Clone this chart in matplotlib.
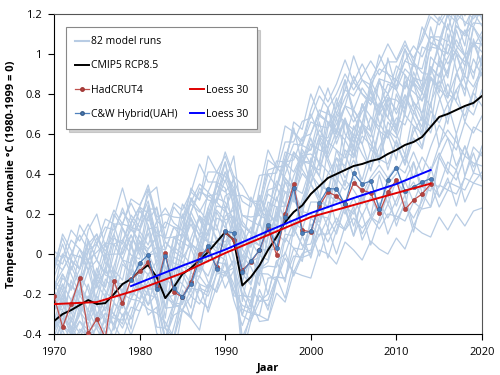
import matplotlib.pyplot as plt
from matplotlib.lines import Line2D
from matplotlib.ticker import FuncFormatter, MultipleLocator

plt.rcParams["font.family"] = ["Open Sans", "DejaVu Sans"]

YEARS = list(range(1970, 2021))

# CMIP5 RCP8.5 multi-model mean
CMIP5_MEAN = [
    -0.335, -0.30, -0.28, -0.255, -0.23, -0.25, -0.245, -0.20, -0.15, -0.125,
    -0.085, -0.055, -0.115, -0.22, -0.165, -0.10, -0.07, -0.03, 0.01, 0.06,
    0.11, 0.07, -0.157, -0.115, -0.057, 0.02, 0.085, 0.16, 0.21, 0.243,
    0.30, 0.34, 0.38, 0.40, 0.42, 0.44, 0.45, 0.465, 0.475, 0.50,
    0.52, 0.545, 0.56, 0.585, 0.635, 0.685, 0.70, 0.72, 0.74, 0.755,
    0.79,
]

# individual model runs, as offsets from the mean in hundredths of a degree
RUN_OFFSETS = [
    [30, 22, 28, 35, 25, 30, 38, 32, 36, 28, 32, 40, 30, 42, 35, 28, 33, 38, 30, 35,
     28, 22, 45, 38, 32, 40, 35, 28, 34, 30, 36, 30, 25, 33, 40, 35, 42, 38, 45, 40,
     35, 42, 48, 40, 45, 38, 50, 44, 48, 42, 45],
    [-10, -5, -12, -8, -15, -10, -5, -12, -18, -10, -15, -8, -12, -20, -14, -18, -10, -15, -22, -16,
     -20, -25, -15, -22, -18, -25, -20, -28, -22, -26, -30, -24, -28, -22, -30, -26, -32, -28, -35, -30,
     -33, -38, -30, -36, -40, -34, -38, -42, -36, -40, -38],
    [15, 20, 10, 18, 25, 12, 8, 20, 15, 22, 10, 18, 25, 15, 8, 20, 12, 5, 18, 22,
     15, 10, 20, 25, 12, 18, 8, 15, 5, 20, 25, 18, 12, 22, 15, 28, 20, 12, 25, 30,
     18, 25, 15, 22, 30, 20, 28, 35, 25, 30, 22],
    [0, -8, 5, -3, 8, -5, 2, 10, -4, 3, -6, 5, 12, 0, -8, 4, -2, 8, 15, 2,
     -5, 6, 10, -3, 4, 12, -2, 5, -8, 3, 10, 0, -6, 8, 2, 15, 5, -4, 6, 12,
     2, -8, 5, 10, -3, 8, 15, 4, -5, 6, 12],
    [25, 35, 20, 28, 15, 30, 22, 40, 28, 18, 25, 32, 20, 38, 30, 22, 35, 25, 15, 28,
     35, 20, 30, 22, 28, 38, 25, 32, 40, 30, 22, 35, 28, 20, 32, 45, 35, 28, 38, 30,
     42, 35, 28, 45, 38, 50, 42, 55, 45, 52, 48],
    [-5, 2, -10, -3, -12, 0, -8, -15, -5, -10, -2, -12, -6, 3, -10, -15, -4, -8, 0, -12,
     -6, -14, -5, -10, -2, -8, -15, -6, -12, -3, -10, -18, -8, -14, -5, -12, -20, -10, -6, -15,
     -12, -5, -18, -10, -22, -14, -8, -16, -25, -12, -18],
    [8, 15, 5, 12, 20, 10, 3, 14, 22, 12, 6, 16, 8, 20, 12, 4, 15, 22, 10, 18,
     12, 5, 14, 20, 10, 24, 15, 8, 18, 25, 20, 12, 28, 18, 24, 15, 30, 22, 16, 28,
     25, 18, 32, 24, 30, 20, 35, 28, 22, 30, 26],
    [-15, -8, -20, -12, -18, -5, -15, -10, -22, -14, -20, -12, -25, -15, -8, -18, -24, -14, -20, -10,
     -16, -22, -12, -18, -25, -14, -20, -28, -18, -22, -15, -25, -20, -30, -18, -24, -15, -28, -22, -32,
     -25, -18, -30, -22, -28, -35, -24, -30, -20, -32, -28],
    [5, 12, -2, 8, 0, 15, 6, -4, 10, 3, 12, 4, -5, 8, 15, 6, 0, 12, 5, -3,
     8, 15, 2, 10, -4, 6, 12, 0, 8, 16, 5, 12, 3, -5, 10, 4, 14, 8, 0, 12,
     6, 15, 8, 2, 12, 18, 5, 10, 15, 8, 14],
    [32, 25, 35, 28, 20, 33, 26, 30, 38, 24, 30, 22, 35, 28, 18, 26, 32, 24, 28, 20,
     26, 18, 30, 22, 28, 16, 24, 30, 20, 26, 22, 28, 18, 25, 32, 22, 28, 35, 25, 30,
     35, 28, 40, 32, 26, 38, 30, 42, 35, 40, 36],
    [-2, 5, -6, 2, -10, 4, -4, 6, 0, -8, 3, -5, 8, 0, -4, 10, 2, -6, 5, 0,
     -8, 2, 6, -4, 8, 0, -6, 4, 10, -2, 5, -6, 2, 8, -4, 3, -8, 6, 0, -5,
     4, -10, 2, -6, 8, -3, 5, -12, 0, -6, 3],
    [20, 12, 25, 18, 30, 22, 15, 28, 20, 32, 22, 28, 15, 24, 30, 18, 25, 12, 22, 28,
     20, 30, 24, 15, 22, 28, 18, 24, 30, 22, 15, 25, 20, 30, 24, 18, 26, 32, 22, 28,
     20, 30, 25, 18, 28, 35, 25, 30, 38, 28, 32],
    [-10, -18, -5, -14, -8, -20, -12, -4, -16, -10, -6, -15, -10, -20, -12, -5, -14, -8, -18, -12,
     -20, -10, -15, -5, -18, -22, -12, -16, -8, -20, -25, -15, -20, -10, -22, -16, -26, -18, -28, -20,
     -15, -25, -20, -30, -22, -18, -28, -35, -25, -30, -35],
    [10, 18, 12, 5, 15, 22, 14, 8, 18, 25, 15, 8, 20, 12, 25, 16, 10, 22, 14, 6,
     18, 25, 12, 18, 10, 20, 28, 15, 10, 22, 16, 24, 10, 18, 26, 12, 20, 15, 28, 18,
     10, 22, 30, 18, 25, 15, 22, 30, 20, 38, 28],
    [35, 28, 40, 32, 38, 30, 42, 35, 30, 40, 33, 38, 28, 35, 42, 32, 38, 30, 40, 35,
     38, 30, 42, 35, 45, 38, 32, 40, 35, 42, 38, 45, 35, 40, 48, 38, 44, 50, 42, 46,
     44, 50, 42, 48, 55, 46, 52, 48, 56, 50, 54],
    [-5, 0, -12, -4, 2, -8, -2, -10, -3, 5, -6, -12, 0, -5, -10, 2, -8, -3, -12, -6,
     0, -8, -4, -12, -2, -6, 2, -10, -5, -12, -4, -8, -14, -2, -10, -6, -15, -8, -3, -12,
     -8, -14, -5, -18, -10, -4, -12, -20, -8, -15, -10],
    [8, 2, 12, 6, 0, 10, 16, 5, 12, 8, 14, 6, 2, 10, 18, 8, 12, 4, 10, 16,
     6, 12, 18, 8, 4, 14, 10, 20, 12, 6, 14, 8, 18, 12, 6, 16, 10, 22, 14, 8,
     16, 10, 20, 12, 24, 14, 8, 18, 25, 15, 20],
    [-12, -20, -15, -8, -18, -12, -22, -16, -10, -20, -15, -22, -18, -12, -25, -18, -14, -22, -16, -25,
     -20, -14, -26, -20, -15, -28, -22, -18, -30, -24, -28, -20, -32, -25, -30, -22, -35, -28, -32, -25,
     -35, -30, -38, -32, -28, -40, -34, -38, -42, -35, -40],
    [22, 30, 25, 18, 28, 35, 24, 20, 30, 26, 20, 28, 34, 24, 30, 22, 28, 36, 26, 20,
     30, 24, 35, 28, 20, 30, 25, 35, 28, 22, 30, 36, 28, 22, 32, 28, 38, 30, 26, 35,
     30, 38, 32, 28, 40, 34, 30, 42, 36, 44, 40],
    [-5, 10, 0, 15, 5, -8, 12, 2, -10, 8, 18, 5, -5, 10, 0, 15, 22, 8, -2, 12,
     5, -10, 8, 18, 5, -5, 12, 20, 6, -4, 10, 22, 8, -6, 15, 5, 20, 10, -2, 16,
     8, 25, 12, 0, 18, 28, 10, 5, 20, 30, 15],
    [10, -5, 15, 0, -10, 12, 25, 5, -8, 18, 0, 20, 5, -10, 15, 30, 10, -5, 22, 8,
     -8, 12, 28, 10, -5, 20, 5, 30, 12, -5, 15, 32, 10, -2, 25, 8, 30, 15, 0, 28,
     10, 35, 18, 2, 30, 12, 40, 20, 5, 32, 15],
    [20, 5, 25, 12, 30, 8, 22, 35, 15, 28, 10, 30, 18, 5, 25, 12, 35, 20, 8, 30,
     22, 5, 28, 15, 35, 18, 8, 30, 42, 20, 28, 10, 35, 20, 45, 25, 15, 38, 22, 48,
     30, 18, 40, 25, 50, 30, 20, 45, 30, 55, 38],
    [-20, -5, -15, 0, -25, -10, 5, -18, -8, -25, -5, -20, 2, -15, -28, -8, -20, 0, -15, -25,
     -10, -28, -5, -18, 0, -22, -12, -30, -8, -20, -30, -10, -25, -5, -20, -35, -15, -28, -8, -25,
     -15, -32, -10, -28, -40, -20, -30, -12, -35, -22, -30],
    [28, 38, 25, 40, 30, 22, 35, 42, 30, 38, 25, 35, 45, 30, 40, 28, 38, 48, 35, 30,
     40, 32, 50, 38, 30, 45, 35, 48, 40, 32, 42, 50, 38, 45, 55, 42, 50, 40, 48, 55,
     45, 52, 40, 50, 58, 48, 55, 45, 60, 52, 58],
    [-8, 0, -12, -5, 2, -10, -18, -5, -12, 0, -10, -20, -8, -15, -25, -12, -5, -20, -28, -15,
     -22, -10, -30, -18, -25, -35, -28, -40, -30, -35, -42, -32, -38, -45, -36, -42, -48, -40, -45, -50,
     -44, -52, -42, -48, -55, -50, -58, -52, -60, -54, -56],
    [5, 15, -5, 8, 20, 0, -10, 12, 2, 18, -5, 8, 20, 5, -8, 10, 25, 5, -5, 15,
     2, 18, -8, 10, 22, 0, 15, -5, 12, 25, 5, -8, 15, 28, 8, -5, 20, 5, 25, 10,
     -5, 18, 30, 10, 0, 22, 8, 28, 12, -2, 20],
    [15, 30, 18, 5, 25, 35, 20, 10, 28, 15, 32, 20, 10, 28, 18, 35, 25, 12, 30, 20,
     10, 32, 18, 40, 25, 15, 35, 22, 12, 30, 40, 25, 15, 35, 45, 28, 20, 40, 30, 18,
     38, 48, 30, 22, 42, 35, 50, 32, 25, 45, 35],
    [-25, -10, -18, -30, -12, -22, -5, -15, -28, -18, -8, -25, -15, -30, -20, -10, -25, -35, -18, -10,
     -28, -15, -35, -22, -12, -30, -20, -38, -25, -15, -32, -20, -40, -28, -18, -35, -25, -42, -30, -20,
     -38, -28, -45, -30, -20, -40, -32, -48, -35, -25, -42],
    [5, 20, 10, 25, 15, 0, 18, 30, 12, 22, 8, 25, 15, 2, 20, 10, 28, 15, 5, 22,
     35, 15, 5, 20, 30, 12, 25, 8, 30, 18, 5, 22, 35, 15, 25, 5, 20, 35, 18, 8,
     28, 15, 35, 22, 10, 30, 18, 40, 25, 12, 30],
    [0, 10, -10, 5, -5, 15, 30, 10, -5, 8, -10, 5, 15, -5, 10, 0, -12, 8, 20, 0,
     -8, 10, 0, -15, 5, 15, -5, 10, -10, 0, 12, -5, -15, 5, -8, 10, -12, 0, 15, -8,
     5, -10, 8, -5, 12, -15, 0, 10, -8, 5, -5],
    [25, 40, 30, 18, 35, 45, 28, 38, 48, 30, 20, 38, 28, 45, 32, 22, 40, 30, 48, 35,
     25, 42, 32, 22, 38, 50, 35, 28, 45, 38, 50, 35, 45, 30, 40, 55, 42, 35, 52, 40,
     30, 48, 38, 55, 42, 35, 50, 58, 40, 48, 55],
    [-15, -25, -10, -20, -30, -18, -8, -22, -15, -28, -20, -12, -28, -22, -35, -18, -25, -12, -30, -22,
     -15, -30, -20, -12, -28, -35, -22, -15, -32, -25, -18, -35, -25, -40, -28, -20, -38, -30, -22, -40,
     -32, -25, -42, -35, -28, -45, -38, -30, -48, -40, -45],
    [-5, 8, 0, 12, -8, 5, 18, 2, -10, 10, 15, 0, -8, 12, 5, -5, 10, 22, 5, -5,
     12, 0, 15, 5, -10, 8, 20, 0, 10, -5, 18, 5, -8, 12, 0, 20, 10, -5, 15, 25,
     8, -5, 15, 5, 25, 10, -5, 18, 8, 22, 10],
    [18, 22, 28, 24, 20, 26, 30, 25, 22, 28, 32, 26, 22, 30, 25, 20, 28, 34, 28, 24,
     30, 26, 35, 30, 25, 32, 38, 30, 26, 34, 30, 38, 32, 28, 36, 42, 35, 30, 40, 36,
     32, 42, 38, 34, 45, 40, 36, 48, 42, 38, 45],
    [-12, -2, -8, -18, -5, -12, 0, -10, -20, -6, -14, -4, -12, -22, -8, -15, -2, -12, -18, -6,
     -14, -25, -10, -16, -4, -12, -22, -8, -18, -28, -12, -20, -8, -25, -15, -30, -18, -10, -25, -15,
     -28, -18, -10, -25, -32, -20, -12, -28, -20, -35, -25],
    [15, 5, 22, 10, 0, 18, 8, 25, 12, 2, 20, 10, 28, 15, 5, 22, 12, 0, 18, 30,
     12, 25, 8, 20, 35, 15, 2, 22, 10, 28, 15, 5, 25, 38, 18, 10, 30, 15, 40, 22,
     12, 32, 20, 8, 35, 25, 45, 28, 15, 38, 25],
]

HAD_YEARS = list(range(1970, 2015))
HADCRUT4 = [
    -0.21, -0.365, -0.25, -0.12, -0.395, -0.325, -0.42, -0.135, -0.245, -0.125,
    -0.087, -0.04, -0.16, 0.005, -0.19, -0.215, -0.14, 0.0, 0.02, -0.065,
    0.11, 0.07, -0.08, -0.04, 0.02, 0.13, -0.005, 0.20, 0.35, 0.12,
    0.11, 0.24, 0.31, 0.29, 0.25, 0.355, 0.32, 0.305, 0.205, 0.31,
    0.37, 0.223, 0.27, 0.30, 0.35,
]

CW_YEARS = list(range(1979, 2015))
CW_HYBRID = [
    -0.13, -0.045, -0.003, -0.175, -0.01, -0.17, -0.215, -0.15, -0.03, 0.04,
    -0.075, 0.115, 0.105, -0.09, -0.035, 0.02, 0.145, 0.03, 0.185, 0.33,
    0.105, 0.113, 0.255, 0.327, 0.325, 0.248, 0.405, 0.35, 0.365, 0.227,
    0.372, 0.432, 0.315, 0.335, 0.36, 0.377,
]

LOESS_HAD_YEARS = [1970, 1975, 1980, 1985, 1990, 1995, 2000, 2005, 2010, 2014]
LOESS_HAD = [-0.25, -0.24, -0.175, -0.095, 0.005, 0.095, 0.185, 0.245, 0.305, 0.352]

LOESS_CW_YEARS = [1979, 1985, 1990, 1995, 2000, 2005, 2010, 2014]
LOESS_CW = [-0.16, -0.058, 0.022, 0.115, 0.205, 0.28, 0.35, 0.42]

RUN_COLOR = "#B8CCE4"

fig = plt.figure(figsize=(5, 3.75), dpi=100)
ax = fig.add_axes([0.108, 0.109, 0.856, 0.854])

for offsets in RUN_OFFSETS:
    run = [m + o / 100 for m, o in zip(CMIP5_MEAN, offsets)]
    ax.plot(YEARS, run, color=RUN_COLOR, lw=0.9, zorder=1)

ax.plot(YEARS, CMIP5_MEAN, color="black", lw=1.4, zorder=3)
ax.plot(HAD_YEARS, HADCRUT4, color="#C0504D", lw=0.9, marker="o", ms=3,
        mfc="#B5423F", mec="#9E3533", mew=0.4, zorder=4)
ax.plot(CW_YEARS, CW_HYBRID, color="#4F81BD", lw=0.9, marker="o", ms=3,
        mfc="#4A7EBB", mec="#385D8A", mew=0.4, zorder=5)
ax.plot(LOESS_HAD_YEARS, LOESS_HAD, color="#E00000", lw=1.4, zorder=6)
ax.plot(LOESS_CW_YEARS, LOESS_CW, color="#0000FF", lw=1.4, zorder=7)

ax.set_xlim(1970, 2020)
ax.set_ylim(-0.4, 1.2)
ax.xaxis.set_major_locator(MultipleLocator(10))
ax.yaxis.set_major_locator(MultipleLocator(0.2))
ax.yaxis.set_major_formatter(FuncFormatter(lambda v, p: f"{v:g}" if abs(v) > 1e-9 else "0"))
ax.tick_params(axis="both", labelsize=8, length=4, width=0.8, direction="out", pad=5)
for side in ("top", "right"):
    ax.spines[side].set_color("#555555")
ax.set_xlabel("Jaar", fontsize=8, fontweight="bold", labelpad=4)
ax.set_ylabel("Temperatuur Anomalie °C (1980-1999 = 0)", fontsize=8, fontweight="bold", labelpad=4)

blank = Line2D([], [], color="none")
handles = [
    Line2D([], [], color=RUN_COLOR, lw=1.5),
    Line2D([], [], color="black", lw=1.4),
    Line2D([], [], color="#C0504D", lw=0.9, marker="o", ms=2.5, mfc="#B5423F", mec="#9E3533"),
    Line2D([], [], color="#4F81BD", lw=0.9, marker="o", ms=2.5, mfc="#4A7EBB", mec="#385D8A"),
    blank, blank,
    Line2D([], [], color="#E00000", lw=1.4),
    Line2D([], [], color="#0000FF", lw=1.4),
]
labels = ["82 model runs", "CMIP5 RCP8.5", "HadCRUT4", "C&W Hybrid(UAH)", "", "", "Loess 30", "Loess 30"]
leg = ax.legend(handles, labels, ncol=2, loc="upper left", bbox_to_anchor=(0.016, 0.975),
                fontsize=7.5, frameon=True, fancybox=False, shadow={"color": "#A6A6A6"},
                handlelength=1.3, handletextpad=0.2, columnspacing=1.2, labelspacing=1.25,
                borderpad=0.9, framealpha=1)
leg.get_frame().set_edgecolor("#888888")
leg.get_frame().set_linewidth(0.8)

fig.savefig("out.png", dpi=100)
